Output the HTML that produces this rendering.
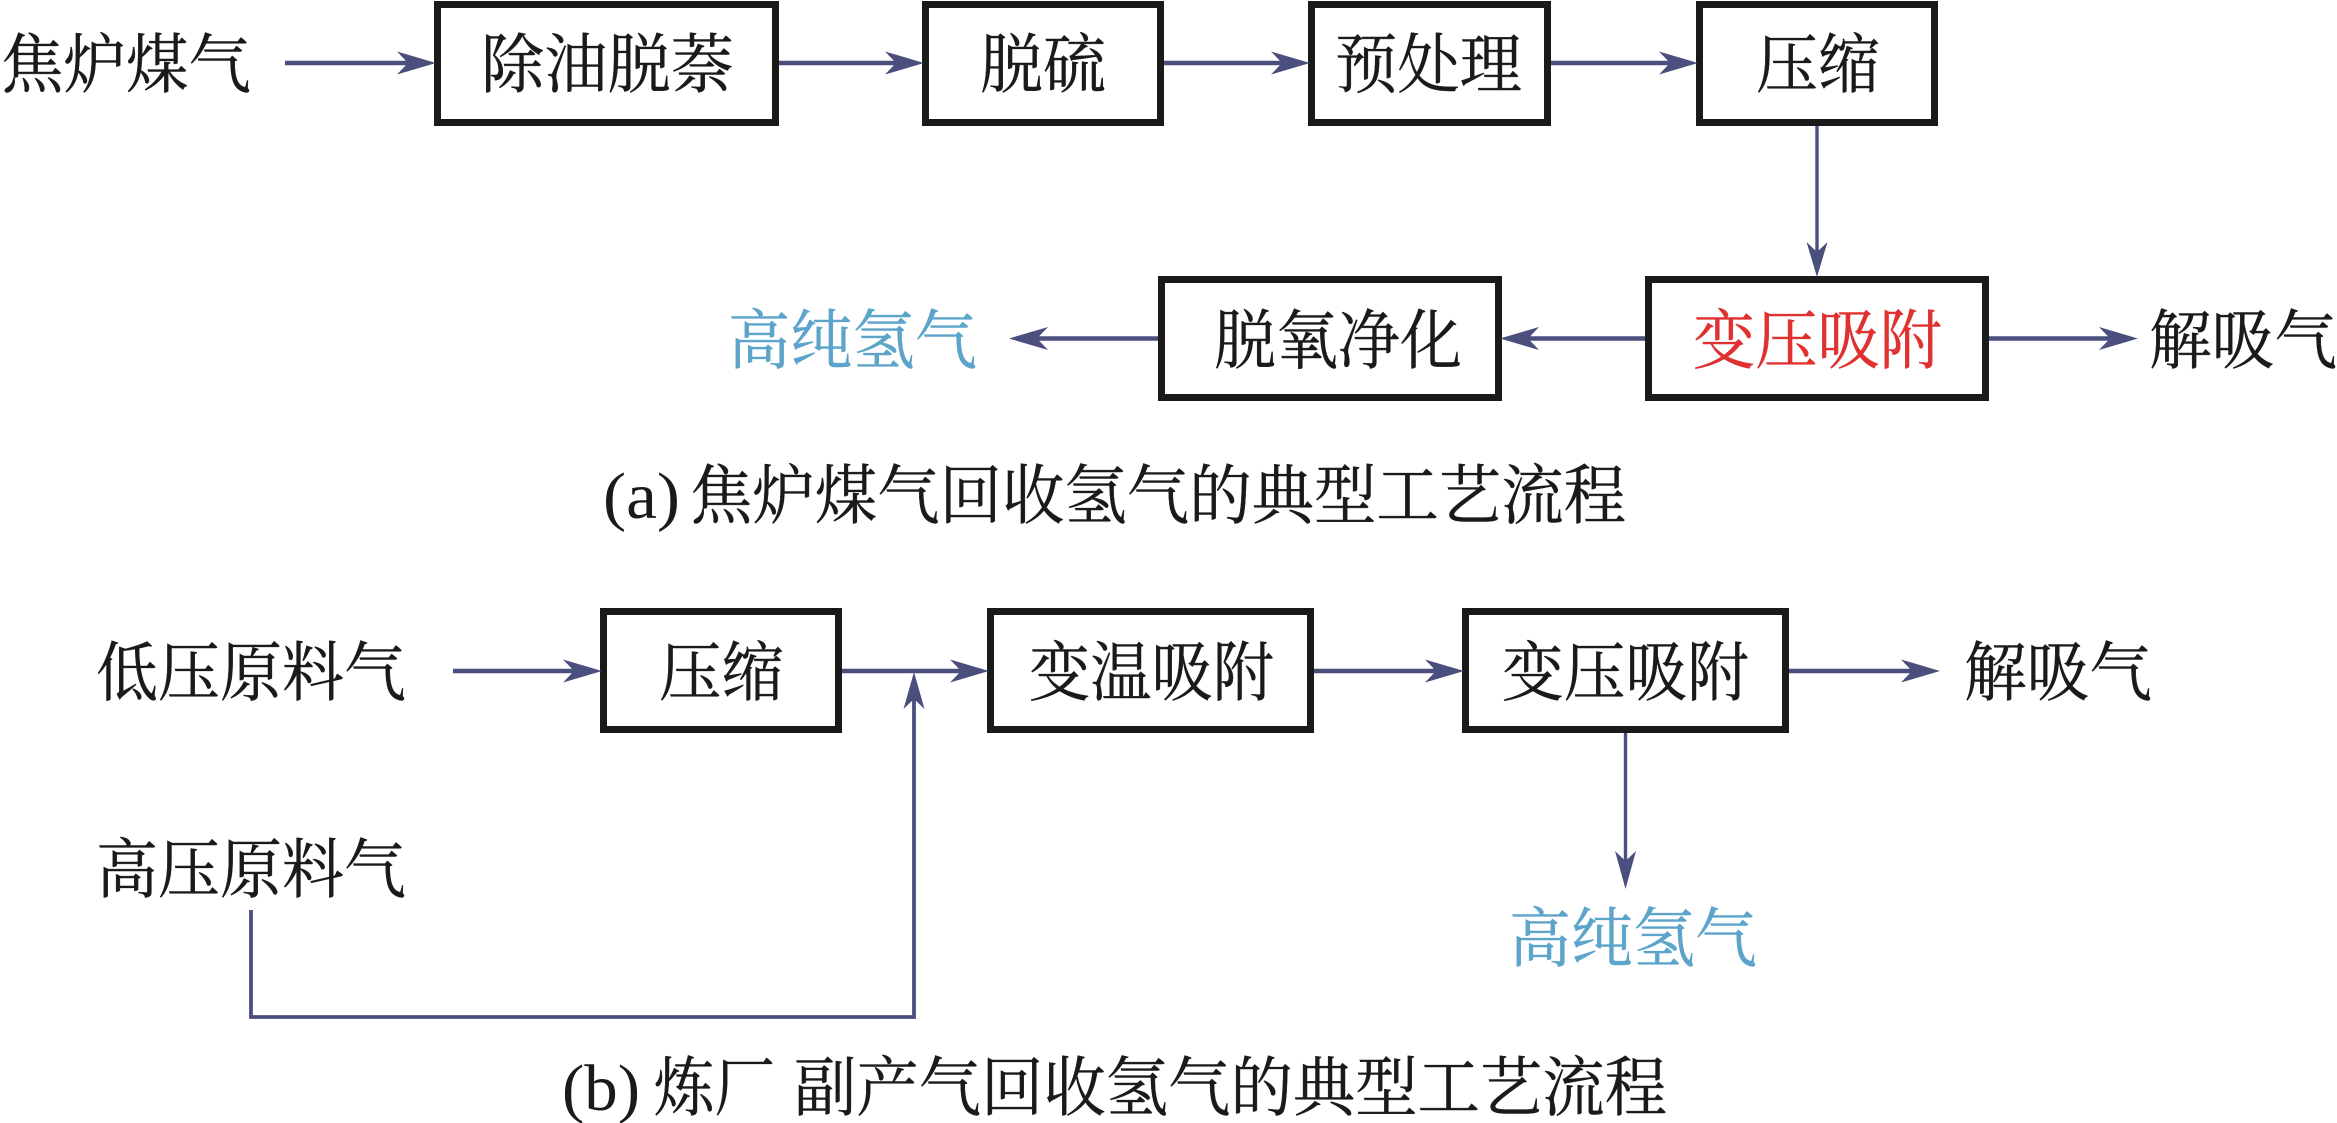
<!DOCTYPE html>
<html lang="zh">
<head>
<meta charset="utf-8">
<style>
html,body{margin:0;padding:0;background:#fff;width:2337px;height:1123px;overflow:hidden}
svg{display:block}
text{font-family:"Liberation Serif","Noto Serif CJK SC",serif;font-size:65px;fill:#1a1a1a;stroke:#1a1a1a;stroke-width:.4}
text.b{fill:#5ca4ca;stroke:#5ca4ca}
text.r{fill:#e03131;stroke:#e03131}
text.p{font-size:66px;stroke-width:0}
rect{fill:#fff;stroke:#1a1a1a;stroke-width:7}
.l{stroke:#4a4f7e;fill:none}
.h{fill:#4a4f7e}
</style>
</head>
<body>
<svg width="2337" height="1123" viewBox="0 0 2337 1123" xmlns="http://www.w3.org/2000/svg">
<!-- boxes -->
<rect x="437.500" y="4.500" width="338" height="118"/>
<rect x="925.500" y="4.500" width="235" height="118"/>
<rect x="1311.500" y="4.500" width="236" height="118"/>
<rect x="1699.500" y="4.500" width="235" height="118"/>
<rect x="1161.500" y="279.500" width="337" height="118"/>
<rect x="1648.500" y="279.500" width="337" height="118"/>
<rect x="603.500" y="611.500" width="235" height="118"/>
<rect x="990.500" y="611.500" width="320" height="118"/>
<rect x="1465.500" y="611.500" width="320" height="118"/>

<!-- thick horizontal lines -->
<g class="l" stroke-width="4.500">
<path d="M285 63H410M779 63H900M1164 63H1290M1551 63H1675"/>
<path d="M1035 338.500H1158M1525 338.500H1645M1989 338.500H2115"/>
<path d="M453 671H580M842 671H965M1314 671H1440M1789 671H1915"/>
</g>
<!-- thin lines -->
<path class="l" stroke-width="3.400" d="M1817 126V255M1625.500 733V865"/>
<path class="l" stroke-width="3.800" d="M251 910V1017H914V695"/>

<!-- right arrowheads -->
<g class="h">
<path d="M436 63L397 51.500L408 63L397 74.500Z"/>
<path d="M924 63L885 51.500L896 63L885 74.500Z"/>
<path d="M1310 63L1271 51.500L1282 63L1271 74.500Z"/>
<path d="M1698 63L1659 51.500L1670 63L1659 74.500Z"/>
<path d="M2138 338.500L2099 327L2110 338.500L2099 350Z"/>
<path d="M602 671L563 659.500L574 671L563 682.500Z"/>
<path d="M989 671L950 659.500L961 671L950 682.500Z"/>
<path d="M1464 671L1425 659.500L1436 671L1425 682.500Z"/>
<path d="M1940 671L1901 659.500L1912 671L1901 682.500Z"/>
<!-- left -->
<path d="M1009 338.500L1048 327L1037 338.500L1048 350Z"/>
<path d="M1500 338.500L1539 327L1528 338.500L1539 350Z"/>
<!-- down -->
<path d="M1817 277L1806.500 242L1817 252L1827.500 242Z"/>
<path d="M1625.500 889L1615 851L1625.500 861L1636 851Z"/>
<!-- up -->
<path d="M914 672L903.500 709L914 699L924.500 709Z"/>
</g>

<!-- labels -->
<text x="1" y="87" textLength="250" lengthAdjust="spacingAndGlyphs">焦炉煤气</text>
<text x="481" y="87" textLength="253" lengthAdjust="spacingAndGlyphs">除油脱萘</text>
<text x="980" y="87" textLength="126" lengthAdjust="spacingAndGlyphs">脱硫</text>
<text x="1335" y="87" textLength="187" lengthAdjust="spacingAndGlyphs">预处理</text>
<text x="1756" y="87" textLength="124" lengthAdjust="spacingAndGlyphs">压缩</text>

<text class="b" x="728" y="363" textLength="249" lengthAdjust="spacingAndGlyphs">高纯氢气</text>
<text x="1214" y="363" textLength="248" lengthAdjust="spacingAndGlyphs">脱氧净化</text>
<text class="r" x="1693" y="363" textLength="249" lengthAdjust="spacingAndGlyphs">变压吸附</text>
<text x="2149" y="363" textLength="188" lengthAdjust="spacingAndGlyphs">解吸气</text>

<text class="p" x="603" y="518" textLength="77" lengthAdjust="spacingAndGlyphs">(a)</text>
<text x="690" y="518" textLength="936" lengthAdjust="spacingAndGlyphs">焦炉煤气回收氢气的典型工艺流程</text>

<text x="96" y="695" textLength="310" lengthAdjust="spacingAndGlyphs">低压原料气</text>
<text x="659" y="695" textLength="125" lengthAdjust="spacingAndGlyphs">压缩</text>
<text x="1029" y="695" textLength="245" lengthAdjust="spacingAndGlyphs">变温吸附</text>
<text x="1502" y="695" textLength="247" lengthAdjust="spacingAndGlyphs">变压吸附</text>
<text x="1964" y="695" textLength="188" lengthAdjust="spacingAndGlyphs">解吸气</text>

<text x="96" y="892" textLength="310" lengthAdjust="spacingAndGlyphs">高压原料气</text>
<text class="b" x="1509" y="961" textLength="248" lengthAdjust="spacingAndGlyphs">高纯氢气</text>

<text class="p" x="562" y="1110" textLength="78" lengthAdjust="spacingAndGlyphs">(b)</text>
<text x="654" y="1110" textLength="121" lengthAdjust="spacingAndGlyphs">炼厂</text>
<text x="794" y="1110" textLength="873" lengthAdjust="spacingAndGlyphs">副产气回收氢气的典型工艺流程</text>
</svg>
</body>
</html>
